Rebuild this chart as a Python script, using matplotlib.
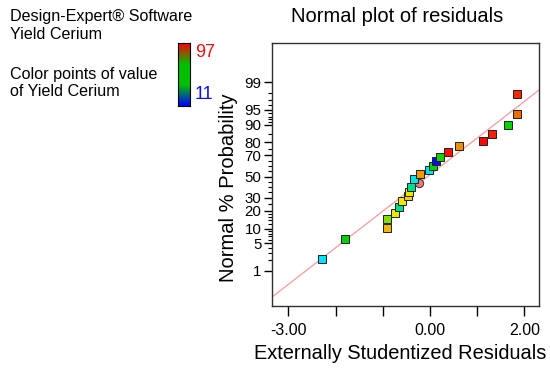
import numpy as np
import matplotlib
matplotlib.use("Agg")
import matplotlib.pyplot as plt
from matplotlib.colors import LinearSegmentedColormap
from statistics import NormalDist

plt.rcParams["font.family"] = ["Liberation Sans", "DejaVu Sans"]

# residuals (sorted) and their normal % probability
resid = [-2.29, -1.81, -0.92, -0.92, -0.74, -0.66, -0.59, -0.46, -0.44, -0.40,
         -0.23, -0.35, -0.21, -0.03, 0.07, 0.12, 0.22, 0.39, 0.61, 1.13,
         1.31, 1.65, 1.84, 1.85]
prob = [2.08, 6.25, 10.42, 14.58, 18.75, 22.92, 27.08, 31.25, 35.42, 39.58,
        43.75, 47.92, 52.08, 56.25, 60.42, 64.58, 68.75, 72.92, 77.08, 81.25,
        85.42, 89.58, 93.75, 97.92]
yield_ce = [28, 45, 72, 55, 62, 36, 63, 67, 62, 36,
            None, 30, 78, 30, 45, 12, 47, 95, 80, 96,
            93, 46, 84, 92]
y_min, y_max = 11, 97

# reference line in normal-score units: z = slope * resid + icpt
slope, icpt = 0.901, 0.048

pct_ticks = [1, 5, 10, 20, 30, 50, 70, 80, 90, 95, 99]
pct_minor = [2, 3, 4, 6, 7, 8, 9, 12, 14, 16, 18, 25, 35, 40, 45, 55, 60, 65,
             75, 85, 91, 92, 93, 94, 96, 97, 98]
x_ticks = [-3, -2, -1, 0, 1, 2]
x_labels = ["-3.00", "", "", "0.00", "", "2.00"]

nd = NormalDist()
pt_cmap = LinearSegmentedColormap.from_list(
    "pts", ["#0000ff", "#00e5ff", "#00d000", "#f0e800", "#f09000", "#ff0000"])
bar_cmap = LinearSegmentedColormap.from_list(
    "bar", ["#0000ff", "#00c000", "#00c000", "#ff0000"])

fig = plt.figure(figsize=(5.5, 3.7), dpi=100)
ax = fig.add_axes([0.4945, 0.173, 0.4855, 0.7108])

# fit line
xl = np.array([-3.35, 2.31])
ax.plot(xl, slope * xl + icpt, color="#f4a4a4", lw=1.0, zorder=1)

for r, p, v in zip(resid, prob, yield_ce):
    z = nd.inv_cdf(p / 100)
    if v is None:
        ax.plot(r, z, "o", ms=6, mfc="#f07878", mec="#303030", mew=0.7, zorder=3)
    else:
        c = pt_cmap((v - y_min) / (y_max - y_min))
        ax.plot(r, z, "s", ms=5.6, mfc=c, mec="#202020", mew=0.7, zorder=3)

ax.set_xlim(-3.35, 2.31)
ax.set_ylim(-3.19, 3.29)
ax.set_xticks(x_ticks)
ax.set_xticklabels(x_labels, fontsize=11.5)
ax.set_yticks([nd.inv_cdf(t / 100) for t in pct_ticks])
ax.set_yticklabels([str(t) for t in pct_ticks], fontsize=10.8)
ax.set_yticks([nd.inv_cdf(t / 100) for t in pct_minor], minor=True)
ax.tick_params(axis="both", which="major", direction="out", length=5, width=1)
ax.tick_params(axis="x", which="major", length=7, pad=5.5)
ax.tick_params(axis="y", which="major", length=6, pad=1.5)
ax.tick_params(axis="y", which="minor", direction="out", length=3, width=0.8)
for s in ax.spines.values():
    s.set_linewidth(1.0)
    s.set_color("#303030")

ax.text(0.468, 1.0 + 26 / 263, "Normal plot of residuals", fontsize=14.5,
        ha="center", va="center", transform=ax.transAxes)
ax.set_xlabel("Externally Studentized Residuals", fontsize=14.4)
ax.xaxis.set_label_coords(0.479, -0.145)
ax.set_ylabel("Normal % Probability", fontsize=14.5)
ax.yaxis.set_label_coords(-0.128, 0.449)

# left-hand legend text
fig.text(0.018, 0.955, "Design-Expert\u00ae Software", fontsize=11.6, va="center")
fig.text(0.018, 0.908, "Yield Cerium", fontsize=11.6, va="center")
fig.text(0.018, 0.798, "Color points of value", fontsize=11.6, va="center")
fig.text(0.018, 0.752, "of Yield Cerium", fontsize=11.6, va="center")

cax = fig.add_axes([0.3236, 0.714, 0.0218, 0.170])
grad = np.linspace(0, 1, 100).reshape(-1, 1)
cax.imshow(grad, aspect="auto", cmap=bar_cmap, origin="lower")
cax.set_xticks([])
cax.set_yticks([])
for s in cax.spines.values():
    s.set_linewidth(0.8)
fig.text(0.354, 0.857, str(y_max), color="#e81010", fontsize=13, va="center")
fig.text(0.354, 0.745, str(y_min), color="#1010e0", fontsize=13, va="center")

fig.savefig("out.png", dpi=100)
